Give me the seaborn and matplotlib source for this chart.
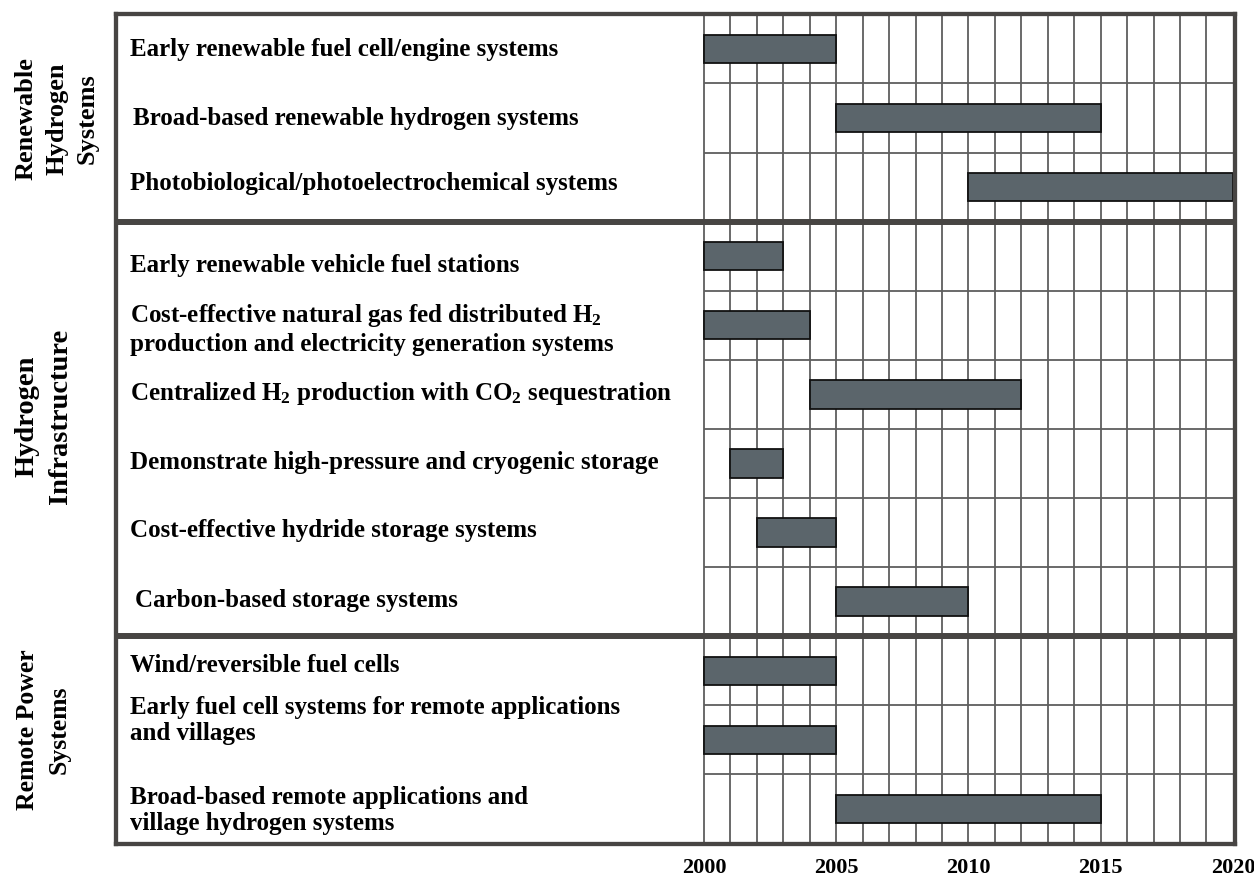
import numpy as np
import pandas as pd
import matplotlib
matplotlib.use("Agg")
import matplotlib.pyplot as plt
import matplotlib.transforms as mtransforms
import seaborn as sns

# -----------------------------
# Data
# -----------------------------
tasks = [
    "Early renewable fuel cell/engine systems",
    "Broad-based renewable hydrogen systems",
    "Photobiological/photoelectrochemical systems",
    "Early renewable vehicle fuel stations",
    "Cost-effective natural gas fed distributed H$_2$\nproduction and electricity generation systems",
    "Centralized H$_2$ production with CO$_2$ sequestration",
    "Demonstrate high-pressure and cryogenic storage",
    "Cost-effective hydride storage systems",
    "Carbon-based storage systems",
    "Wind/reversible fuel cells",
    "Early fuel cell systems for remote applications\nand villages",
    "Broad-based remote applications and\nvillage hydrogen systems",
]
start_year = [2000, 2005, 2010, 2000, 2000, 2004, 2001, 2002, 2005, 2000, 2000, 2005]
end_year = [2005, 2015, 2020, 2003, 2004, 2012, 2003, 2005, 2010, 2005, 2005, 2015]

groups = ["Renewable\nHydrogen\nSystems", "Hydrogen\nInfrastructure", "Remote Power\nSystems"]
group_sizes = [3, 6, 3]

year_ticks = [2000, 2005, 2010, 2015, 2020]

# -----------------------------
# Style
# -----------------------------
sns.set_theme(style="white")
plt.rcParams["font.family"] = ["Liberation Serif", "DejaVu Serif"]
plt.rcParams["font.weight"] = "bold"
plt.rcParams["text.color"] = "black"
plt.rcParams["mathtext.fontset"] = "custom"
plt.rcParams["mathtext.rm"] = "Liberation Serif:bold"
plt.rcParams["mathtext.it"] = "Liberation Serif:bold"
plt.rcParams["mathtext.bf"] = "Liberation Serif:bold"
plt.rcParams["mathtext.default"] = "rm"

frame_color = "#474543"
grid_color = "#5e5e5e"
bar_color = "#5b656b"

df = pd.DataFrame({
    "task": tasks,
    "duration": np.array(end_year) - np.array(start_year),
})

W, H = 1254, 878
fig = plt.figure(figsize=(W / 100, H / 100), dpi=100)
ax = fig.add_axes([115.7 / W, 1 - 844.5 / H, (1235 - 115.7) / W, (844.5 - 15.3) / H])

# Gantt bars
sns.barplot(data=df, x="duration", y="task", order=tasks, left=start_year,
            color=bar_color, saturation=1, errorbar=None, width=0.41,
            edgecolor="#111111", linewidth=1.3, ax=ax, zorder=3)

ax.set_xlim(1977.76, 2020.08)
ax.set_ylim(len(tasks) - 0.5, -0.5)
ax.set_xlabel("")
ax.set_ylabel("")
ax.set_yticks([])

# grid (only in the time area)
ax.vlines(np.arange(2000, 2020), -0.5, len(tasks) - 0.5, color=grid_color, lw=1.3, zorder=1)
dividers = np.cumsum(group_sizes)[:-1] - 0.5
for b in np.arange(0.5, len(tasks) - 1, 1.0):
    if b not in dividers:
        ax.hlines(b, 2000, 2020.08, color=grid_color, lw=1.3, zorder=1)
for d in dividers:
    ax.axhline(d, color=frame_color, lw=4.3, zorder=5)

for s in ax.spines.values():
    s.set_visible(True)
    s.set_linewidth(3.1)
    s.set_color(frame_color)
    s.set_zorder(6)

ax.set_xticks(year_ticks)
ax.set_xticklabels([str(y) for y in year_ticks], fontsize=16, fontweight="bold")
ax.tick_params(axis="x", length=0, pad=10, colors="black")

# task labels
label_offsets = [-0.01, -0.01, -0.07, 0.12, 0.04, -0.02, -0.03, -0.04, -0.03, -0.09, -0.30, 0.01]
label_x = [1978.3, 1978.4, 1978.3, 1978.3, 1978.3, 1978.3, 1978.3, 1978.3, 1978.5, 1978.3, 1978.3, 1978.3]
for i, t in enumerate(tasks):
    ax.text(label_x[i], i + label_offsets[i], t, ha="left", va="center", fontsize=18,
            fontweight="bold", linespacing=1.17, zorder=4)

# group labels
trans = mtransforms.blended_transform_factory(fig.transFigure, ax.transData)
group_x = [57 / W, 44 / W, 43 / W]
group_dy = [0.0, -0.2, -0.16]
group_fs = [19, 20.5, 18.5]
group_ls = [1.42, 1.43, 1.48]
first = 0
for k, (g, n) in enumerate(zip(groups, group_sizes)):
    center = first + (n - 1) / 2 + group_dy[k]
    fig.text(group_x[k], center, g, transform=trans, rotation=90, ha="center", va="center",
             multialignment="center", fontsize=group_fs[k], fontweight="bold",
             linespacing=group_ls[k])
    first += n

fig.savefig("out.png", dpi=100)
